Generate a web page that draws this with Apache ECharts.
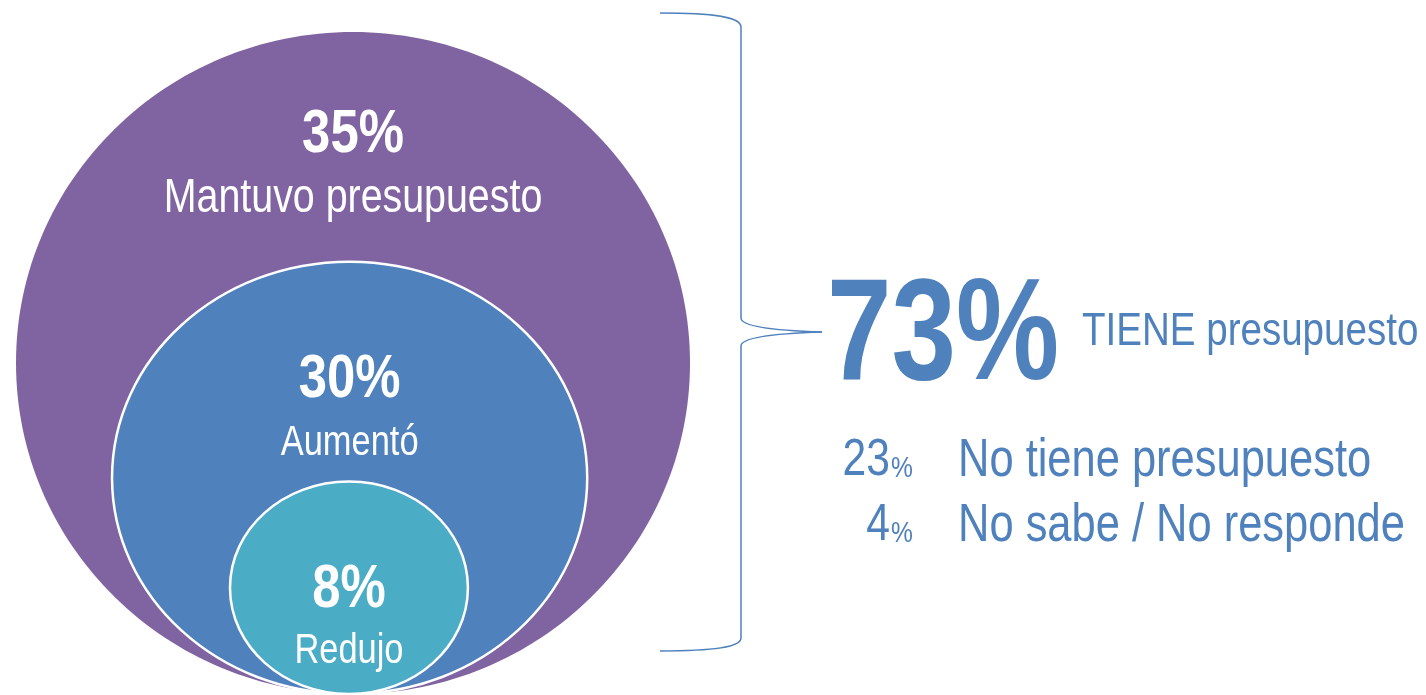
<!DOCTYPE html>
<html>
<head>
<meta charset="utf-8">
<script src="https://cdn.jsdelivr.net/npm/echarts@6/dist/echarts.min.js"></script>
<style>
  html, body { margin: 0; padding: 0; background: #fff; }
  #chart { width: 1426px; height: 695px; }
</style>
</head>
<body>
<div id="chart"></div>
<script>
// data
const categories = ['Mantuvo presupuesto', 'Aumentó', 'Redujo'];
const budgetValues = [35, 30, 8];
const totalLabel = 'TIENE presupuesto';
const otherLabels = ['No tiene presupuesto', 'No sabe / No responde'];
const otherValues = [23, 4];

const FONT = "'Liberation Sans Narrow', 'Arial Narrow', 'Liberation Sans', Arial, sans-serif";
// no narrow face installed -> squeeze regular glyphs horizontally
const NARROW = 0.82;
const BLUE_TEXT = '#4F81BD';
const circleColors = ['#8064A2', '#4F81BD', '#4BACC6'];

// nested ellipses, bottom-tangent, in axis units (x: -1..1, y: 0..2)
const circleLayout = [
  { cx: 0, rx: 1, ry: 1, valueY: 1.69, nameY: 1.496 },
  { cx: -0.01, rx: 0.705, ry: 0.653, valueY: 0.95, nameY: 0.757 },
  { cx: -0.012, rx: 0.353, ry: 0.321, valueY: 0.315, nameY: 0.129 }
];

const total = budgetValues.reduce((a, b) => a + b, 0);

const chart = echarts.init(document.getElementById('chart'));

const renderCircle = (params, api) => {
  const i = params.dataIndex;
  const lay = circleLayout[i];
  const c = api.coord([api.value(0), api.value(1)]);
  const s = api.size([lay.rx, lay.ry]);
  const vPos = api.coord([lay.cx, lay.valueY]);
  const nPos = api.coord([lay.cx, lay.nameY]);
  return {
    type: 'group',
    children: [
      {
        type: 'ellipse',
        shape: { cx: c[0], cy: c[1], rx: s[0], ry: s[1] },
        style: {
          fill: circleColors[i],
          stroke: i > 0 ? '#ffffff' : null,
          lineWidth: i > 0 ? 2.5 : 0
        }
      },
      {
        type: 'text',
        x: vPos[0],
        y: vPos[1],
        scaleX: NARROW,
        style: {
          text: api.value(2) + '%',
          fill: '#ffffff',
          fontSize: 62,
          fontWeight: 'bold',
          fontFamily: FONT,
          align: 'center',
          verticalAlign: 'middle'
        }
      },
      {
        type: 'text',
        x: nPos[0],
        y: nPos[1],
        scaleX: NARROW,
        style: {
          text: categories[i],
          fill: '#ffffff',
          fontSize: i === 0 ? 48 : 42,
          fontFamily: FONT,
          align: 'center',
          verticalAlign: 'middle'
        }
      }
    ]
  };
};

// right-hand curly brace
const braceStyle = { stroke: BLUE_TEXT, lineWidth: 1.5, fill: null };
const brace = [
  { type: 'bezierCurve', shape: { x1: 660, y1: 13, cpx1: 715, cpy1: 13, cpx2: 741, cpy2: 17, x2: 741, y2: 27 }, style: braceStyle },
  { type: 'line', shape: { x1: 741, y1: 27, x2: 741, y2: 318 }, style: braceStyle },
  { type: 'bezierCurve', shape: { x1: 741, y1: 318, cpx1: 741, cpy1: 328, cpx2: 790, cpy2: 331, x2: 822, y2: 332 }, style: braceStyle },
  { type: 'bezierCurve', shape: { x1: 822, y1: 332, cpx1: 790, cpy1: 333, cpx2: 741, cpy2: 336, x2: 741, y2: 346 }, style: braceStyle },
  { type: 'line', shape: { x1: 741, y1: 346, x2: 741, y2: 638 }, style: braceStyle },
  { type: 'bezierCurve', shape: { x1: 741, y1: 638, cpx1: 741, cpy1: 647, cpx2: 715, cpy2: 651, x2: 660, y2: 651 }, style: braceStyle }
];

const textEl = (x, y, text, fontSize, align, bold, sx) => ({
  type: 'text',
  x: x,
  y: y,
  scaleX: sx || NARROW,
  style: {
    text: text,
    fill: BLUE_TEXT,
    fontSize: fontSize,
    fontWeight: bold ? 'bold' : 'normal',
    fontFamily: FONT,
    align: align,
    verticalAlign: 'middle'
  }
});

const rightText = [
  textEl(827, 339, total + '%', 145, 'left', true, 0.8),
  textEl(1082, 332, totalLabel, 47, 'left', false)
];
const rowBaselines = [478, 543];
otherValues.forEach((v, i) => {
  const b = rowBaselines[i];
  rightText.push(
    textEl(890, b - 17, String(v), 52, 'right', false),
    textEl(891, b - 9.5, '%', 30, 'left', false),
    textEl(958, b - 17, otherLabels[i], 53, 'left', false)
  );
});

const option = {
  animation: false,
  backgroundColor: '#ffffff',
  grid: { left: 16, top: 32, width: 674, height: 662 },
  xAxis: { type: 'value', min: -1, max: 1, show: false },
  yAxis: { type: 'value', min: 0, max: 2, show: false },
  graphic: brace.concat(rightText),
  series: [
    {
      type: 'custom',
      clip: false,
      silent: true,
      renderItem: renderCircle,
      encode: { x: 0, y: 1 },
      data: budgetValues.map((v, i) => [circleLayout[i].cx, circleLayout[i].ry, v])
    }
  ]
};

chart.setOption(option);
window.addEventListener('resize', () => chart.resize());
</script>
</body>
</html>
